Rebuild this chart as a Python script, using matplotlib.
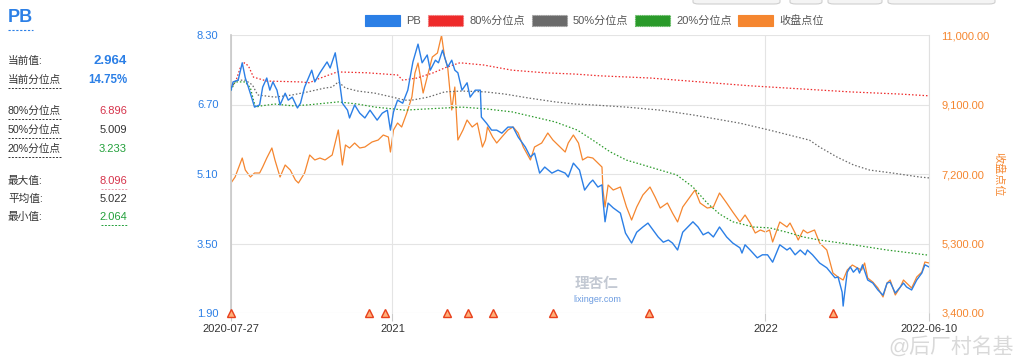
import numpy as np
import pandas as pd
import matplotlib
matplotlib.use("Agg")
import matplotlib.pyplot as plt
from matplotlib.patches import Rectangle, FancyBboxPatch
from matplotlib.lines import Line2D

plt.rcParams['font.family'] = ['Liberation Sans', 'Noto Sans CJK SC', 'DejaVu Sans']

START = "2020-07-27"
END = "2022-06-10"

# ---- data (days since 2020-07-27, values) ----
pb_days = [0, 2, 7, 11, 14, 17, 21, 23, 28, 31, 35, 38, 41, 45, 48, 53, 56, 60, 65, 68, 72, 79, 82, 87, 94, 97,
           102, 105, 109, 114, 116, 121, 126, 131, 136, 143, 148, 153, 156, 159, 163, 168, 173, 178, 183, 187,
           192, 195, 200, 203, 207, 212, 216, 219, 222, 226, 231, 234, 239, 244, 245, 250, 255, 260, 265, 271,
           276, 281, 288, 293, 297, 302, 307, 314, 320, 327, 330, 335, 341, 346, 351, 354, 359, 363, 364, 366,
           369, 374, 381, 386, 392, 397, 403, 408, 413, 418, 423, 428, 432, 437, 442, 447, 452, 457, 462, 467,
           472, 478, 485, 491, 498, 500, 503, 508, 515, 520, 525, 530, 537, 544, 547, 552, 557, 562, 564, 569,
           576, 583, 591, 594, 598, 599, 600, 603, 606, 609, 613, 615, 618, 623, 628, 633, 638, 642, 645, 650,
           655, 658, 661, 666, 671, 676, 679, 683]
pb_values = [7.03, 7.22, 7.26, 7.66, 7.31, 7.10, 6.80, 6.64, 6.69, 7.10, 7.31, 7.03, 7.22, 7.03, 6.69, 6.96, 6.80,
             6.87, 6.62, 6.73, 7.10, 7.49, 7.22, 7.43, 7.68, 7.54, 7.89, 7.43, 6.73, 6.57, 6.39, 6.69, 6.50, 6.39,
             6.57, 6.34, 6.50, 6.57, 6.11, 6.53, 6.80, 6.73, 7.03, 7.68, 8.09, 7.66, 7.84, 7.49, 7.72, 7.66, 7.95,
             7.56, 7.72, 7.49, 7.43, 7.03, 7.20, 6.87, 7.03, 7.03, 6.41, 6.27, 6.11, 6.11, 6.04, 6.18, 6.18, 5.95,
             5.72, 5.49, 5.58, 5.12, 5.26, 5.12, 5.19, 5.12, 5.03, 5.35, 5.19, 4.73, 4.89, 4.96, 4.80, 4.85, 4.50,
             4.00, 4.43, 4.32, 4.20, 3.74, 3.51, 3.76, 3.88, 3.97, 3.81, 3.65, 3.53, 3.58, 3.51, 3.35, 3.76, 3.88,
             4.00, 3.88, 3.70, 3.76, 3.65, 3.88, 3.65, 3.51, 3.40, 3.28, 3.47, 3.35, 3.17, 3.24, 3.24, 3.07, 3.47,
             3.35, 3.40, 3.24, 3.35, 3.24, 3.35, 3.24, 3.05, 2.94, 2.71, 2.73, 2.38, 2.06, 2.27, 2.84, 2.96, 2.84,
             2.94, 2.82, 3.01, 2.66, 2.59, 2.43, 2.31, 2.59, 2.61, 2.36, 2.50, 2.59, 2.50, 2.43, 2.66, 2.82, 3.01,
             2.96]

close_days = [0, 4, 11, 14, 19, 23, 28, 31, 35, 40, 43, 48, 53, 58, 63, 66, 72, 77, 82, 87, 92, 99, 105, 109, 112,
              116, 121, 126, 131, 138, 144, 149, 154, 156, 159, 163, 167, 172, 177, 180, 183, 188, 192, 197, 202,
              205, 206, 209, 212, 216, 219, 222, 227, 231, 236, 241, 246, 249, 251, 256, 260, 265, 271, 276, 281,
              286, 293, 297, 304, 310, 315, 322, 327, 330, 335, 340, 344, 349, 354, 359, 363, 364, 366, 369, 374,
              381, 387, 392, 397, 403, 410, 415, 420, 427, 432, 437, 442, 449, 454, 459, 466, 472, 478, 485, 491,
              498, 503, 508, 513, 518, 523, 527, 530, 537, 544, 547, 552, 555, 560, 564, 571, 576, 583, 589, 594,
              599, 603, 608, 613, 617, 620, 623, 628, 633, 638, 642, 645, 650, 655, 658, 661, 666, 671, 676, 679,
              683]
close_values = [6954, 7118, 7637, 7309, 7118, 7227, 7227, 7391, 7637, 7911, 7583, 7118, 7446, 7309, 7036, 6954,
                7227, 7719, 7583, 7637, 7583, 7719, 8403, 7446, 7993, 7911, 8047, 7911, 7938, 8075, 8129, 8266,
                8211, 7801, 8403, 8594, 8485, 8867, 9305, 9961, 10234, 9414, 9852, 10399, 10508, 10863, 10990,
                10399, 10125, 8950, 9578, 8129, 8403, 8676, 8485, 8594, 7938, 8129, 8485, 8211, 8047, 8211, 8403,
                8485, 8321, 7938, 7583, 7938, 8047, 8321, 8129, 7938, 7801, 8047, 8266, 8047, 7583, 7665, 7637,
                7501, 7391, 6762, 6298, 6899, 6762, 6844, 6298, 5942, 6298, 6626, 6844, 6571, 6270, 6407, 6134,
                5888, 6298, 6571, 6762, 6407, 6270, 6298, 6680, 6407, 6161, 5888, 6079, 5860, 5587, 5669, 5614,
                5669, 5341, 5888, 5751, 5860, 5587, 5395, 5669, 5587, 5669, 5313, 5122, 4493, 4384, 4302, 4575,
                4712, 4630, 4575, 4767, 4357, 4247, 4083, 3837, 4220, 4302, 3892, 4111, 4302, 4220, 4083, 4384,
                4520, 4794, 4767]

p80_days = [0, 5, 9, 13, 17, 22, 35, 68, 77, 82, 90, 104, 133, 163, 168, 182, 198, 211, 224, 247, 275, 307, 337,
            361, 410, 459, 508, 557, 606, 655, 683]
p80_values = [7.08, 7.26, 7.54, 7.66, 7.59, 7.33, 7.24, 7.22, 7.20, 7.26, 7.33, 7.45, 7.43, 7.38, 7.26, 7.31, 7.43,
              7.56, 7.66, 7.61, 7.49, 7.43, 7.40, 7.36, 7.31, 7.22, 7.13, 7.06, 6.99, 6.94, 6.90]

p50_days = [0, 5, 14, 21, 26, 43, 60, 75, 92, 99, 105, 112, 124, 141, 158, 170, 177, 193, 209, 226, 249, 268, 291,
            317, 337, 354, 387, 420, 452, 498, 527, 566, 576, 593, 609, 625, 648, 674, 683]
p50_values = [7.08, 7.26, 7.26, 7.15, 6.92, 6.87, 6.92, 6.99, 7.08, 7.10, 7.22, 7.08, 7.01, 6.96, 6.87, 6.80, 6.80,
              6.87, 6.99, 7.01, 6.99, 6.94, 6.85, 6.76, 6.71, 6.69, 6.64, 6.57, 6.46, 6.27, 6.11, 5.88, 5.72, 5.49,
              5.31, 5.19, 5.12, 5.03, 5.01]

p20_days = [0, 4, 14, 19, 22, 24, 30, 43, 60, 75, 92, 105, 124, 141, 158, 170, 193, 226, 249, 275, 297, 317, 339,
            354, 371, 387, 403, 420, 436, 452, 466, 478, 491, 511, 527, 544, 560, 576, 609, 642, 683]
p20_values = [7.03, 7.22, 7.22, 7.08, 6.80, 6.64, 6.67, 6.71, 6.67, 6.69, 6.73, 6.76, 6.71, 6.64, 6.60, 6.57, 6.60,
              6.64, 6.60, 6.53, 6.41, 6.30, 6.11, 5.88, 5.61, 5.42, 5.31, 5.19, 5.08, 4.80, 4.43, 4.18, 4.00, 3.88,
              3.86, 3.76, 3.65, 3.58, 3.47, 3.35, 3.23]

alert_days = [0, 135, 151, 211, 232, 256, 315, 409, 589]

left_ticks = [1.90, 3.50, 5.10, 6.70, 8.30]
right_ticks = [3400, 5300, 7200, 9100, 11000]
x_tick_dates = ["2020-07-27", "2021-01-01", "2022-01-01", "2022-06-10"]
x_tick_labels = ["2020-07-27", "2021", "2022", "2022-06-10"]

legend_labels = ["PB", "80%分位点", "50%分位点", "20%分位点", "收盘点位"]

stat_labels = ["当前值:", "当前分位点", "80%分位点", "50%分位点", "20%分位点", "最大值:", "平均值:", "最小值:"]
stat_values = ["2.964", "14.75%", "6.896", "5.009", "3.233", "8.096", "5.022", "2.064"]

# ---- styles ----
C_BLUE = "#2b7fe6"
C_ORANGE = "#f5862f"
C_RED = "#ee2a2a"
C_GRAY = "#6a6a6a"
C_GREEN = "#2a9a2a"
C_TEXT = "#333333"

W, H = 1024, 359
fig = plt.figure(figsize=(W / 100, H / 100), dpi=100)


def fx(x):
    return x / W


def fy(y):
    return 1 - y / H


ax = fig.add_axes([fx(231), fy(313), fx(929) - fx(231), fy(35) - fy(313)])
ax2 = ax.twinx()

t0 = pd.Timestamp(START)


def to_dates(days):
    return t0 + pd.to_timedelta(np.asarray(days), unit="D")


# percentile dotted lines
dots = (0, (1.2, 1.6))
ax.plot(to_dates(p80_days), p80_values, color=C_RED, lw=0.9, ls=dots, zorder=3)
ax.plot(to_dates(p50_days), p50_values, color=C_GRAY, lw=0.9, ls=dots, zorder=3)
ax.plot(to_dates(p20_days), p20_values, color=C_GREEN, lw=0.9, ls=dots, zorder=3)

ax2.plot(to_dates(close_days), close_values, color=C_ORANGE, lw=0.9, zorder=4)
ax.plot(to_dates(pb_days), pb_values, color=C_BLUE, lw=1.0, zorder=5)

ax.plot(to_dates(alert_days), [1.90] * len(alert_days), ls="none", marker="^", ms=5.5,
        mfc="#ffb07a", mec="#e8401c", mew=1.0, zorder=6, clip_on=False)

ax.set_zorder(ax2.get_zorder() + 1)
ax.patch.set_visible(False)

ax.set_xlim(pd.Timestamp(START), pd.Timestamp(END))
ax.set_ylim(left_ticks[0], left_ticks[-1])
ax2.set_ylim(right_ticks[0], right_ticks[-1])

ax.set_yticks(left_ticks)
ax.set_yticklabels([f"{v:.2f}" for v in left_ticks])
ax2.set_yticks(right_ticks)
ax2.set_yticklabels([f"{v:,.2f}" for v in right_ticks])

ax.set_xticks(pd.to_datetime(x_tick_dates))
ax.set_xticklabels(x_tick_labels)

ax.tick_params(axis="y", length=0, pad=9, labelsize=8, labelcolor=C_BLUE)
ax2.tick_params(axis="y", length=0, pad=9, labelsize=8, labelcolor=C_ORANGE)
ax.tick_params(axis="x", length=6, width=0.8, color="#cccccc", pad=2, labelsize=8, labelcolor=C_TEXT)

ax.grid(True, axis="both", color="#e4e4e4", lw=0.8, zorder=0)
ax.set_axisbelow(True)

for a in (ax, ax2):
    for s in a.spines.values():
        s.set_visible(False)
ax.spines["left"].set_visible(True)
ax.spines["left"].set_color("#c8c8c8")
ax.spines["left"].set_linewidth(1.2)
ax2.spines["right"].set_visible(True)
ax2.spines["right"].set_color("#e0e0e0")
ax2.spines["right"].set_linewidth(0.8)

# right axis title
fig.text(fx(999), fy(174), "收盘点位", rotation=-90, ha="center", va="center", color=C_ORANGE, fontsize=8)

# legend
leg_rects = [365, 428, 532, 635, 738]
leg_colors = [C_BLUE, C_RED, C_GRAY, C_GREEN, C_ORANGE]
leg_edges = [C_BLUE, "#f07070", "#9a9a9a", "#5cb85c", C_ORANGE]
for x0, lab, col, ec in zip(leg_rects, legend_labels, leg_colors, leg_edges):
    fig.patches.append(Rectangle((fx(x0), fy(26)), fx(35), 11 / H, transform=fig.transFigure,
                                 facecolor=col, edgecolor=ec, lw=0.8, ls=(0, (1, 1)) if ec != col else "-"))
    fig.text(fx(x0 + 41), fy(20.5), lab, ha="left", va="center", fontsize=8, color="#555555")

# top-right buttons (partly cut off)
for bx, bw in [(693, 87), (790, 32), (828, 54), (888, 107)]:
    fig.patches.append(FancyBboxPatch((fx(bx), fy(4)), fx(bw), 12 / H, transform=fig.transFigure,
                                      boxstyle="round,pad=0,rounding_size=0.006", facecolor="#f4f4f4",
                                      edgecolor="#cfcfcf", lw=0.8))

# left panel
fig.text(fx(8), fy(18), "PB", ha="left", va="center", fontsize=13, fontweight="bold", color=C_BLUE)
fig.add_artist(Line2D([fx(8), fx(33)], [fy(30), fy(30)], color=C_BLUE, lw=0.8, ls=(0, (2, 1.5))))

rows_y = [61, 80, 111, 130, 149, 181, 199, 217]
val_colors = [C_BLUE, C_BLUE, "#d6334b", C_TEXT, "#23a03b", "#d6334b", C_TEXT, "#23a03b"]
underline_label = [False, True, True, True, True, False, False, False]
underline_value = {5: "#e89aaa", 7: "#23a03b"}
for i, (lab, val, yy, vc) in enumerate(zip(stat_labels, stat_values, rows_y, val_colors)):
    fig.text(fx(8), fy(yy), lab, ha="left", va="center", fontsize=7.7, color=C_TEXT)
    big = i < 2
    fig.text(fx(127), fy(yy), val, ha="right", va="center",
             fontsize=9.5 if i == 0 else (8.3 if i == 1 else 8),
             fontweight="bold" if big else "normal", color=vc)
    if underline_label[i]:
        fig.add_artist(Line2D([fx(8), fx(62)], [fy(yy + 8), fy(yy + 8)], color="#333333", lw=0.7,
                              ls=(0, (2, 1.5))))
    if i in underline_value:
        fig.add_artist(Line2D([fx(101), fx(127)], [fy(yy + 8), fy(yy + 8)], color=underline_value[i], lw=0.7,
                              ls=(0, (2, 1.5))))

# watermarks
fig.text(fx(597), fy(284), "理杏仁", ha="center", va="center", fontsize=10.5, color="#c3c9d3",
         fontweight="bold", zorder=10)
fig.text(fx(597), fy(300), "lixinger.com", ha="center", va="center", fontsize=6.5, color="#6b9be0", zorder=10)
fig.text(fx(1014), fy(346), "@后厂村名基", ha="right", va="center", fontsize=15, color="#d5d5d5",
         alpha=0.9, zorder=10)

fig.savefig("out.png", dpi=100, facecolor="white")
